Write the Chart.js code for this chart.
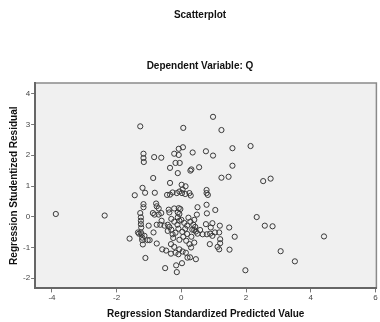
<!DOCTYPE html>
<html>
<head>
<meta charset="utf-8">
<script src="https://cdn.jsdelivr.net/npm/chart.js@4/dist/chart.umd.min.js"></script>
<style>
  html, body { margin: 0; padding: 0; background: #fff; }
  #wrap { width: 380px; height: 322px; }
</style>
</head>
<body>
<div id="wrap"><canvas id="scatter" width="380" height="322"></canvas></div>
<script>
const chartTitle = "Scatterplot";
const chartSubtitle = "Dependent Variable: Q";
const xTitle = "Regression Standardized Predicted Value";
const yTitle = "Regression Studentized Residual";
const xTicks = [-4, -2, 0, 2, 4, 6];
const yTicks = [-2, -1, 0, 1, 2, 3, 4];

// regression standardized predicted value (x)
const predicted = [
  -1.27, 0.06, 0.98, 1.24, -1.17, -1.17, -1.16, -0.84, -0.62, 0.05,
  -0.08, -0.22, -0.08, 0.35, 0.76, 0.98, 1.58, 2.14, -0.18, -0.05,
  -0.35, 0.28, 0.31, 0.55, 1.58, -0.11, -0.87, 1.24, 1.46, 2.53,
  2.76, -0.35, 0.01, 0.13, 0.04, -1.20, -1.12, -0.82, -1.44, -0.44,
  -0.35, -0.27, -0.14, -0.06, 0.12, 0.25, 0.29, 0.02, 0.78, 0.78,
  0.82, -1.17, -1.17, -0.78, -0.76, -0.70, -0.39, -0.22, -0.08, -0.03,
  0.50, 0.78, 1.05, -1.27, -0.88, -0.62, -3.88, -2.37, -0.83, -0.70,
  -0.37, -0.11, -0.06, 0.48, 0.79, 2.33, -1.25, -0.11, -1.25, -0.61,
  -0.06, -1.25, -0.76, -0.65, -0.52, -0.42, -1.01, -1.24, 0.96, 0.76,
  0.91, 1.19, 1.48, 2.58, 2.82, 0.40, 0.45, 0.58, 0.50, 0.66,
  0.79, 0.89, 0.96, 1.04, 1.17, 1.65, 4.41, -0.86, -1.34, -1.25,
  -1.31, -1.23, -1.14, -1.60, -1.21, -1.21, -1.04, -0.98, -1.19, -0.76,
  -0.32, -0.22, -0.06, 0.04, 0.14, 0.25, 0.30, 0.40, -0.59, -0.47,
  -0.32, -0.18, -0.09, 0.88, 1.12, 1.20, 1.17, 1.20, 1.49, 3.07,
  -1.11, 0.19, 0.27, 0.45, 3.51, -0.50, -0.16, 0.02, -0.14, 1.98,
  -0.31, -0.22, -0.12, 0.00, 0.09, 0.18, 0.28, 0.37, 0.12, 0.03,
  -0.09, -0.18, -0.31, -0.37, 0.18, 0.31, 0.06, -0.06, -0.25, 0.15,
  0.34, 0.43, 0.22, 0.40, -0.42, -0.27
];

// regression studentized residual (y)
const residual = [
  2.94, 2.89, 3.25, 2.82, 2.05, 1.91, 1.78, 1.94, 1.92, 2.26,
  2.21, 2.05, 2.01, 2.09, 2.13, 1.99, 2.23, 2.30, 1.75, 1.75,
  1.59, 1.50, 1.54, 1.61, 1.66, 1.42, 1.26, 1.27, 1.30, 1.16,
  1.24, 1.10, 1.04, 0.99, 0.89, 0.94, 0.78, 0.78, 0.70, 0.71,
  0.72, 0.79, 0.77, 0.82, 0.74, 0.77, 0.69, 0.77, 0.87, 0.77,
  0.71, 0.41, 0.31, 0.43, 0.34, 0.27, 0.23, 0.27, 0.28, 0.25,
  0.31, 0.39, 0.22, 0.12, 0.12, 0.12, 0.09, 0.04, 0.07, 0.07,
  0.14, 0.14, 0.09, 0.07, 0.11, -0.01, -0.02, -0.02, -0.13, -0.13,
  -0.13, -0.24, -0.26, -0.26, -0.29, -0.26, -0.29, -0.35, -0.21, -0.24,
  -0.35, -0.29, -0.35, -0.29, -0.31, -0.43, -0.48, -0.43, -0.55, -0.57,
  -0.57, -0.55, -0.62, -0.51, -0.51, -0.65, -0.64, -0.51, -0.51, -0.51,
  -0.55, -0.57, -0.62, -0.71, -0.68, -0.76, -0.76, -0.76, -0.90, -0.87,
  -0.89, -0.98, -1.06, -1.13, -1.17, -0.89, -1.00, -0.84, -1.06, -1.10,
  -1.20, -1.17, -1.22, -0.89, -0.98, -0.86, -1.06, -0.73, -1.07, -1.12,
  -1.34, -1.33, -1.32, -1.38, -1.45, -1.67, -1.58, -1.51, -1.80, -1.74,
  -0.07, -0.16, -0.26, -0.10, -0.20, -0.29, -0.16, -0.26, -0.39, -0.49,
  -0.39, -0.52, -0.42, -0.33, -0.56, -0.65, -0.65, -0.75, -0.69, -0.78,
  -0.42, -0.33, -0.03, -0.10, -0.46, -0.57
];

const points = predicted.map((x, i) => ({ x: x, y: residual[i] }));

// grey plot background and frame like SPSS
const plotFrame = {
  id: 'plotFrame',
  beforeDraw(chart) {
    const { ctx, chartArea: a } = chart;
    ctx.save();
    ctx.fillStyle = '#f0f0f0';
    ctx.fillRect(a.left, a.top, a.right - a.left, a.bottom - a.top);
    ctx.strokeStyle = '#8a8a8a';
    ctx.lineWidth = 1.5;
    ctx.beginPath();
    ctx.moveTo(a.left, a.top);
    ctx.lineTo(a.right, a.top);
    ctx.lineTo(a.right, a.bottom);
    ctx.stroke();
    ctx.restore();
  }
};

// the two headings sit above the plot
const headings = {
  id: 'headings',
  afterDraw(chart) {
    const ctx = chart.ctx;
    ctx.save();
    ctx.fillStyle = '#111';
    ctx.font = 'bold 10px "Liberation Sans", Arial, sans-serif';
    ctx.textAlign = 'center';
    ctx.textBaseline = 'middle';
    ctx.fillText(chartTitle, 200, 15);
    ctx.fillText(chartSubtitle, 200, 66);
    ctx.restore();
  }
};

const tickFont = { family: '"Liberation Sans", Arial, sans-serif', size: 8 };
const titleFont = { family: '"Liberation Sans", Arial, sans-serif', size: 10, weight: 'bold' };

new Chart(document.getElementById('scatter'), {
  type: 'scatter',
  data: {
    datasets: [{
      data: points,
      pointStyle: 'circle',
      pointRadius: 2.6,
      pointHoverRadius: 2.6,
      borderWidth: 1,
      borderColor: '#3a3a3a',
      backgroundColor: 'rgba(0,0,0,0)'
    }]
  },
  options: {
    responsive: false,
    animation: false,
    devicePixelRatio: 1,
    layout: { padding: { top: 83, left: 8, right: 2, bottom: 2 } },
    plugins: {
      legend: { display: false },
      tooltip: { enabled: false }
    },
    scales: {
      x: {
        type: 'linear',
        min: -4.52,
        max: 6.03,
        afterBuildTicks: axis => { axis.ticks = xTicks.map(v => ({ value: v })); },
        grid: { drawOnChartArea: false, tickLength: 4, color: '#777' },
        border: { color: '#666', width: 2 },
        ticks: { font: tickFont, color: '#444', padding: 1, maxRotation: 0 },
        title: { display: true, text: xTitle, font: titleFont, color: '#111', padding: { top: 4, bottom: 0 } }
      },
      y: {
        type: 'linear',
        min: -2.33,
        max: 4.35,
        afterBuildTicks: axis => { axis.ticks = yTicks.map(v => ({ value: v })); },
        grid: { drawOnChartArea: false, tickLength: 4, color: '#777' },
        border: { color: '#666', width: 2 },
        ticks: { font: tickFont, color: '#444', padding: 1 },
        title: { display: true, text: yTitle, font: titleFont, color: '#111', padding: { top: 0, bottom: 2 } }
      }
    }
  },
  plugins: [plotFrame, headings]
});
</script>
</body>
</html>
